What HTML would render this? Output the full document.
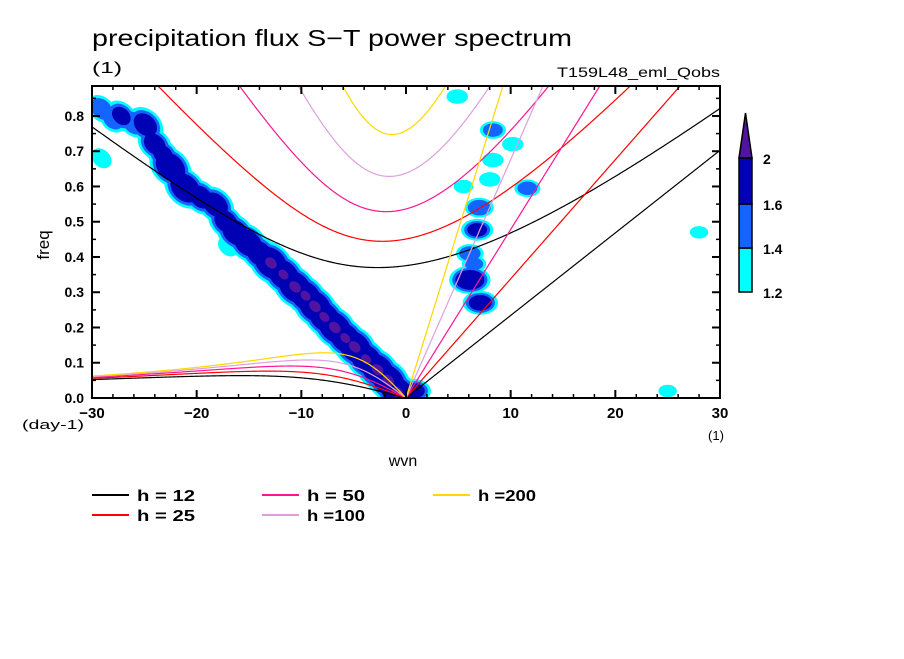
<!DOCTYPE html>
<html><head><meta charset="utf-8"><style>
body{margin:0;background:#fff;}
svg text{font-family:"Liberation Sans",sans-serif;fill:#000;}
</style></head><body>
<svg id="chart" width="904" height="654" xmlns="http://www.w3.org/2000/svg">
<defs><clipPath id="clip"><rect x="92" y="86" width="628" height="312"/></clipPath></defs>
<text x="92" y="46" font-size="23" textLength="480" lengthAdjust="spacingAndGlyphs">precipitation flux S−T power spectrum</text>
<text x="92" y="73" font-size="16" textLength="30" lengthAdjust="spacingAndGlyphs">(1)</text>
<text x="557" y="77" font-size="14" textLength="163" lengthAdjust="spacingAndGlyphs">T159L48_eml_Qobs</text>
<g id="blobs" clip-path="url(#clip)"></g>
<g id="curves" clip-path="url(#clip)"></g>
<g id="axes"></g>
<rect x="92" y="86" width="628" height="312" fill="none" stroke="#000" stroke-width="2"/>
<text transform="translate(49,245) rotate(-90)" font-size="17" text-anchor="middle">freq</text>
<text x="22" y="429" font-size="13" textLength="62" lengthAdjust="spacingAndGlyphs">(day-1)</text>
<text x="403" y="466" font-size="16" text-anchor="middle">wvn</text>
<text x="716" y="440" font-size="13" text-anchor="middle">(1)</text>
<g id="colorbar"></g>
<g id="legend"></g>
</svg>
<script>
const depths=[12,25,50,100,200];
const depthColors=['#000000','#ff0000','#ff1493','#dda0dd','#ffd700'];
const depthLabels=['h = 12','h = 25','h = 50','h =100','h =200'];
const levels=[1.2,1.4,1.6,2.0];
const levelColors=['#00ffff','#1464ff','#0000b4','#5014a0'];
const xTicks=[-30,-20,-10,0,10,20,30];
const yTicks=[0,0.1,0.2,0.3,0.4,0.5,0.6,0.7,0.8];
// spectral peaks: wavenumber, frequency, power
const peakWvn=[-29.1,-28,-27.2,-26,-24.9,-24,-23.2,-22.5,-21.1,-19.6,-18.2,-17.2,-16.3,-15.1,-14,-12.9,-11.7,-10.6,-9.6,-8.7,-7.8,-6.8,-5.8,-4.9,-3.8,-2.7,-1.7,-0.8,0.7,-29.1,-17,4.9,8.3,8.3,8,7,6.8,6.1,6.1,7.1,11.6,10.2,5.5,6.5,25,28];
const peakFreq=[0.82,0.79,0.80,0.78,0.775,0.72,0.69,0.655,0.596,0.57,0.548,0.50,0.47,0.44,0.41,0.383,0.35,0.315,0.29,0.26,0.23,0.20,0.17,0.145,0.11,0.08,0.05,0.015,0.02,0.68,0.43,0.855,0.76,0.675,0.62,0.54,0.477,0.41,0.335,0.27,0.595,0.72,0.60,0.38,0.02,0.47];
const peakPower=[1.55,1.5,1.65,1.6,1.8,1.75,1.7,2.0,2.0,1.8,1.85,1.8,1.9,1.95,1.9,2.1,2.05,2.1,2.05,2.1,2.05,2.1,2.05,2.1,2.05,2.1,2.1,2.1,1.8,1.3,1.3,1.35,1.5,1.35,1.35,1.6,1.7,1.55,2.0,1.8,1.5,1.35,1.3,1.45,1.25,1.25];

const X0=92,X1=720,Y0=398,Y1=86,XMIN=-30,XMAX=30,YMAX=0.885;
const xs=v=>X0+(v-XMIN)/(XMAX-XMIN)*(X1-X0);
const ys=v=>Y0-v/YMAX*(Y0-Y1);
const NS='http://www.w3.org/2000/svg';
function mk(tag,attrs,parent){const e=document.createElementNS(NS,tag);for(const k in attrs)e.setAttribute(k,attrs[k]);parent.appendChild(e);return e;}

// blobs
const gb=document.getElementById('blobs');
for(let li=0;li<levels.length;li++){
  for(let i=0;i<peakWvn.length;i++){
    const v=peakPower[i];
    if(v<=levels[li])continue;
    const r=11*(v-levels[li])+(li==3?3:6);
    const cx=xs(peakWvn[i]),cy=ys(peakFreq[i]);
    const left=peakWvn[i]<0;
    const rot=left?44:0;
    const c=mk('ellipse',{cx:cx,cy:cy,rx:r*(left?1.6:1.4),ry:r*(left?1.2:0.95),fill:levelColors[li],transform:`rotate(${rot} ${cx} ${cy})`},gb);
    
    
  }
}

// dispersion curves
const g=9.81,a=6.371e6,beta=2*7.292e-5/a;
function roots(kh){const p=-(kh*kh+3),q=-kh;const m=2*Math.sqrt(-p/3);const th=Math.acos(Math.max(-1,Math.min(1,3*q/(2*p)*Math.sqrt(-3/p))))/3;
  return [0,1,2].map(j=>m*Math.cos(th-2*Math.PI*j/3)).sort((u,w)=>u-w);}
const gc=document.getElementById('curves');
depths.forEach((h,di)=>{
  const c=Math.sqrt(g*h),ks=Math.sqrt(c/beta),ws=Math.sqrt(beta*c),cf=86400/(2*Math.PI);
  let ig=[],er=[],kv=[];
  for(let s=-30;s<=30.001;s+=0.1){
    const kh=s/a*ks;const r=roots(kh);
    ig.push([xs(s),ys(r[2]*ws*cf)]);
    if(s<=0.001)er.push([xs(s),ys(Math.max(0,r[1])*ws*cf)]);
    if(s>=-0.001)kv.push([xs(s),ys(Math.max(0,kh)*ws*cf)]);
  }
  [['ig',ig],['er',er],['kelvin',kv]].forEach(([n,pts])=>{
    const p=mk('polyline',{points:pts.map(q=>q.join(',')).join(' '),fill:'none',stroke:depthColors[di],'stroke-width':1.2},gc);
    
    
  });
});

// axes ticks
const ga=document.getElementById('axes');
for(let v=-30;v<=30;v+=2){const maj=v%10==0;const L=maj?8:4;
  mk('line',{x1:xs(v),x2:xs(v),y1:Y0,y2:Y0-L,stroke:'#000','stroke-width':maj?2:1.5},ga);
  mk('line',{x1:xs(v),x2:xs(v),y1:Y1,y2:Y1+L,stroke:'#000','stroke-width':maj?2:1.5},ga);}
for(let i=0;i<=17;i++){const v=i*0.05;const maj=i%2==0;const L=maj?8:4;
  mk('line',{x1:X0,x2:X0+L,y1:ys(v),y2:ys(v),stroke:'#000','stroke-width':maj?2:1.5},ga);
  mk('line',{x1:X1,x2:X1-L,y1:ys(v),y2:ys(v),stroke:'#000','stroke-width':maj?2:1.5},ga);}
xTicks.forEach(v=>{const t=mk('text',{x:xs(v),y:418,'font-size':15,'font-weight':'bold','text-anchor':'middle'},ga);t.textContent=(v<0?'−':'')+Math.abs(v);
  
  });
yTicks.forEach(v=>{const t=mk('text',{x:84,y:ys(v)+5,'font-size':14,'font-weight':'bold','text-anchor':'end'},ga);t.textContent=v.toFixed(1);
  
  });

// colorbar
const cb=document.getElementById('colorbar');
const cbY=[292,248,204,158];
for(let i=0;i<3;i++){const r=mk('rect',{x:739,y:cbY[i+1],width:13,height:cbY[i]-cbY[i+1],fill:levelColors[i],stroke:'#000','stroke-width':1.5},cb);
  
  }
const tri=mk('polygon',{points:'739,158 752,158 745.5,113',fill:levelColors[3],stroke:'#000','stroke-width':1.5},cb);


['1.2','1.4','1.6','2'].forEach((s,i)=>{const t=mk('text',{x:763,y:cbY[i]+6,'font-size':14,'font-weight':'bold'},cb);t.textContent=s;
  
  });

// legend
const gl=document.getElementById('legend');
const lx=[92,92,262,262,433],ly=[495,515,495,515,495];
depths.forEach((h,i)=>{
  const l=mk('line',{x1:lx[i],x2:lx[i]+37,y1:ly[i],y2:ly[i],stroke:depthColors[i],'stroke-width':2},gl);
  
  
  const t=mk('text',{x:lx[i]+45,y:ly[i]+6,'font-size':16,'font-weight':'bold',textLength:58,lengthAdjust:'spacingAndGlyphs'},gl);t.textContent=depthLabels[i];
  
  
});
</script>
</body></html>
